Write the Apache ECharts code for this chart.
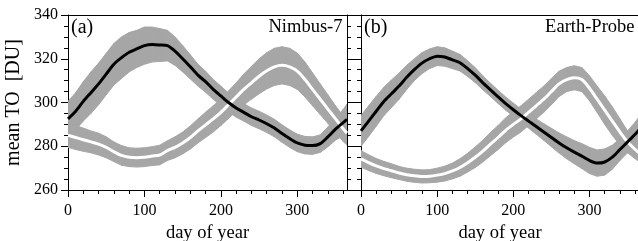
<!DOCTYPE html>
<html><head><meta charset="utf-8">
<script src="https://cdn.jsdelivr.net/npm/echarts@6/dist/echarts.min.js"></script>
<style>html,body{margin:0;padding:0;background:#fff}#c{width:638px;height:241px}</style>
</head><body><div id="c"></div>
<script>
// day of year sample points
const days = [0,10,20,30,40,50,60,70,80,90,100,110,120,130,140,150,160,170,180,190,200,210,220,230,240,250,260,270,280,290,300,310,320,330,340,350,360,365];
// Panel (a) Nimbus-7
const n7Black    = [292.5,296,300.5,304.5,308.5,313,317.5,320.5,323,324.5,326,326.5,326.3,326,323.5,320,316.3,312.5,309.5,306,303,300,297.5,295.5,293.5,292,290.3,288.3,285.8,283.5,281.5,280.5,280.3,281.2,284.3,287.8,290.8,292.3];
const n7BlackErr = [8,8.5,9,9.5,9.5,9.5,9.5,9.5,9,8.5,8.5,8,7.5,7,6.5,6,5.5,5,4.8,4.5,4.5,4.3,4.2,4,4,4,4,4,4,4,4,4,4,4,4.5,5,6,7];
const n7White    = [285,284,283,282,281,279.5,277.5,275.8,275,274.8,275,275.5,276,278,279.5,281.5,284,287,289.8,292.5,295.5,299,302.5,306,309,312,314.5,316.3,317,316.3,314.3,310.5,306,301.5,297,292.5,288,286];
const n7WhiteErr = [5.5,5.5,5.3,5,5,4.8,4.5,4.5,4.3,4.3,4.3,4.3,4.5,4.5,4.8,5,5.3,5.5,5.8,6,6,6.3,6.5,7,7.5,8,8.3,8.5,8.5,8.5,8.3,8,7.5,7,6.5,6,5.8,5.5];
// Panel (b) Earth-Probe
const epBlack    = [287,291.5,296,300.5,304,307.5,311.5,315,318,320,321.2,320.8,319.5,318.2,315.5,312.5,309,305.8,302.6,299.5,296.7,294,291.5,289,286.5,284,281.5,279.3,277.3,275.5,273.5,272.3,272.8,275,278.5,282,285.5,287.5];
const epBlackErr = [7,7,6.8,6.5,6.3,6,5.5,5,4.8,4.5,4.3,4.2,4,3.8,3.6,3.4,3.2,3,3,3,3,3,3.2,3.5,3.8,4.2,4.6,5,5.3,5.7,6,6,6,5.5,5,5,5.5,6];
const epWhite    = [274.2,272.5,271,269.8,268.8,267.8,267,266.5,266.2,266.3,266.8,267.5,268.7,270.3,272.5,275,277.8,281,284,287.3,290,292.5,295.5,298.5,301.5,305,308.5,310.5,311.3,310.5,306.5,301.5,296.5,291.5,286.5,282,278.5,277];
const epWhiteErr = [3.8,3.6,3.4,3.3,3.2,3,3,3,3,3,3.2,3.4,3.6,4,4.3,4.7,5,5.3,5.5,5.7,5.8,6,6,6,6,6,5.8,5.5,5.5,5.5,5.7,6,6.5,6.5,6,5,4.2,4];
// ticks
const xMajorTicks = [0,100,200,300];
const xMinorTicks = [0,20,40,60,80,100,120,140,160,180,200,220,240,260,280,300,320,340,360];
const yMin = 260, yMax = 340, yStep = 20;
const panelLabels = ['(a)','(b)'];
const panelNames = ['Nimbus-7','Earth-Probe'];

const FONT = '"Liberation Serif","Times New Roman",serif';
const GRAY = '#a6a6a6';
const chart = echarts.init(document.getElementById('c'), null, {renderer:'canvas'});

const grids = [
  {left:68, top:15, width:279, height:175, containLabel:false, outerBoundsMode:'none'},
  {left:361, top:15, width:278, height:175, containLabel:false, outerBoundsMode:'none'}
];
const xAxes = [], yAxes = [], series = [];
const lineCol = {color:'#000', width:1};
grids.forEach((g, k) => {
  xAxes.push({gridIndex:k, type:'value', min:0, max:365, position:'bottom',
    axisLine:{show:true, onZero:false, lineStyle:lineCol},
    axisTick:{show:true, length:7, customValues:xMajorTicks, lineStyle:lineCol},
    axisLabel:{customValues:xMajorTicks, fontSize:16, color:'#000', margin:13, fontFamily:FONT},
    splitLine:{show:false},
    name:'day of year', nameLocation:'middle', nameGap:24,
    nameTextStyle:{fontSize:18.5, color:'#000', fontFamily:FONT}});
  xAxes.push({gridIndex:k, type:'value', min:0, max:365, position:'bottom',
    axisLine:{show:false, onZero:false},
    axisTick:{show:true, length:4, customValues:xMinorTicks, lineStyle:lineCol},
    axisLabel:{show:false}, splitLine:{show:false}});
  xAxes.push({gridIndex:k, type:'value', min:0, max:365, position:'top',
    axisLine:{show:true, onZero:false, lineStyle:lineCol},
    axisTick:{show:false}, axisLabel:{show:false}, splitLine:{show:false}});
  ['left','right'].forEach(pos => {
    const showLab = (k === 0 && pos === 'left');
    yAxes.push({gridIndex:k, type:'value', min:yMin, max:yMax, interval:yStep, position:pos,
      axisLine:{show:true, onZero:false, lineStyle:lineCol},
      axisTick:{show:true, length:7, lineStyle:lineCol},
      minorTick:{show:true, splitNumber:4, length:4, lineStyle:lineCol},
      axisLabel:{show:showLab, fontSize:16, color:'#000', margin:10, fontFamily:FONT},
      splitLine:{show:false}, minorSplitLine:{show:false},
      name: showLab ? 'mean TO  [DU]' : '', nameLocation:'middle', nameGap:44,
      nameTextStyle:{fontSize:20, color:'#000', fontFamily:FONT}});
  });
});

function band(k, mean, err) {
  const data = days.map((d, i) => [d, mean[i] - err[i], mean[i] + err[i]]);
  return {type:'custom', xAxisIndex:3*k, yAxisIndex:2*k, data:data, silent:true, z:1, clip:true,
    encode:{x:0, y:[1,2]},
    renderItem:function(params, api){
      const i = params.dataIndex;
      if (i >= data.length - 1) return null;
      const a = data[i], b = data[i+1];
      const pts = [api.coord([a[0], a[1]]), api.coord([b[0], b[1]]), api.coord([b[0], b[2]]), api.coord([a[0], a[2]])];
      return {type:'polygon', shape:{points:pts}, style:{fill:GRAY, stroke:GRAY, lineWidth:1}};
    }};
}
function line(k, mean, color, z) {
  return {type:'line', xAxisIndex:3*k, yAxisIndex:2*k, data:days.map((d, i) => [d, mean[i]]),
    showSymbol:false, smooth:0.25, silent:true, z:z, clip:true,
    lineStyle:{color:color, width:3}};
}
const panels = [[n7Black, n7BlackErr, n7White, n7WhiteErr],[epBlack, epBlackErr, epWhite, epWhiteErr]];
panels.forEach((p, k) => {
  series.push(band(k, p[0], p[1]));
  series.push(band(k, p[2], p[3]));
  series.push(line(k, p[2], '#fff', 3));
  series.push(line(k, p[0], '#000', 4));
});

const graphic = [];
grids.forEach((g, k) => {
  graphic.push({type:'text', x:g.left + 3, y:28, z:10,
    style:{text:panelLabels[k], font:'20px ' + FONT, fill:'#000', verticalAlign:'middle', align:'left'}});
  graphic.push({type:'text', x:g.left + g.width - 4.5, y:27.5, z:10,
    style:{text:panelNames[k], font:'18.5px ' + FONT, fill:'#000', verticalAlign:'middle', align:'right'}});
});

chart.setOption({animation:false, backgroundColor:'#fff', grid:grids, xAxis:xAxes, yAxis:yAxes, series:series, graphic:graphic});
</script></body></html>
